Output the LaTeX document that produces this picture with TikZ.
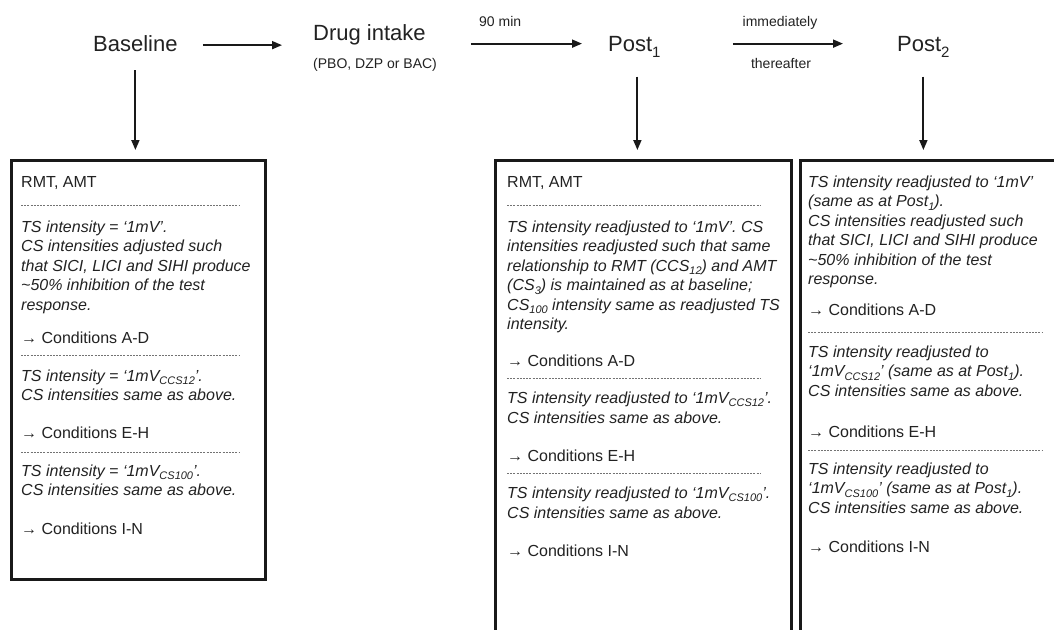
\documentclass[tikz,border=0pt]{standalone}
\usepackage{fontspec}
\setmainfont{Liberation Sans}
\usetikzlibrary{arrows.meta}
\definecolor{ink}{HTML}{222222}
\newcommand{\hsub}[1]{\raisebox{-0.55ex}{\fontsize{15}{15}\selectfont #1}}
\newcommand{\bsub}[1]{\raisebox{-0.45ex}{\fontsize{11}{11}\selectfont #1}}
\tikzset{
  hdr/.style={inner sep=0, anchor=base west, text=ink, font=\fontsize{22}{26}\selectfont},
  small/.style={inner sep=0, anchor=base west, text=ink, font=\fontsize{14}{17}\selectfont},
  ln/.style={inner sep=0, anchor=base west, text=ink, font=\fontsize{16}{19.5}\selectfont},
  itl/.style={inner sep=0, anchor=base west, text=ink, font=\fontsize{16}{19.5}\selectfont\itshape},
  sepline/.style={draw=black!55, dash pattern=on 2pt off 1.2pt, line width=0.9pt},
  frame/.style={draw=black!90, line width=2.6pt, anchor=north west, inner sep=0},
  arr/.style={-{Triangle[length=10pt,width=8pt]}, line width=1.8pt, draw=black!90},
}
\begin{document}
\begin{tikzpicture}[x=1pt,y=-1pt]
\useasboundingbox (0,0) rectangle (1054,629);
\fill[white] (0,0) rectangle (1054,629);
\clip (0,0) rectangle (1054,629);

% headers
\node[hdr] (base) at (93,51) {Baseline};
\node[hdr] (drug) at (313,40) {Drug intake};
\node[small] (drugsub) at (313,68) {(PBO, DZP or BAC)};
\node[hdr] (post1) at (608,51) {Post\hsub{1}};
\node[hdr] (post2) at (897,51) {Post\hsub{2}};
\node[small] (ninety) at (479,26) {90 min};
\node[small, anchor=base] (immed) at (780,26) {immediately};
\node[small, anchor=base] (there) at (781,68) {thereafter};

% boxes
\node[frame, minimum width=254pt, minimum height=419pt] (box1) at (10,159) {};
\node[frame, minimum width=296pt, minimum height=520pt] (box2) at (494,159) {};
\node[frame, minimum width=300pt, minimum height=520pt] (box3) at (799,159) {};

% arrows
\draw[arr] ([xshift=25pt,yshift=-2pt]base.east) -- ([xshift=-31pt,yshift=-2pt]base.east -| drug.west);
\draw[arr] ([xshift=45pt,yshift=3pt]drug.east |- post1.west) -- ([xshift=-26pt,yshift=3pt]post1.west);
\draw[arr] ([xshift=72pt,yshift=3pt]post1.east) -- ([xshift=-54pt,yshift=3pt]post1.east -| post2.west);
\draw[arr] ([yshift=-19pt]base.south) -- ([yshift=9pt]box1.north -| base.south);
\draw[arr] ([yshift=-19pt,xshift=3pt]post1.south) -- ([yshift=9pt,xshift=3pt]box2.north -| post1.south);
\draw[arr] ([yshift=-19pt]post2.south) -- ([yshift=9pt]box3.north -| post2.south);

% box 1
\node[ln]  (a1)  at (21,187) {RMT, AMT};
\draw[sepline] (21,205) -- (240,205);
\node[itl] (a2)  at (21,232) {TS intensity = ‘1mV’.};
\node[itl] (a3)  at (21,251.5) {CS intensities adjusted such};
\node[itl] (a4)  at (21,271) {that SICI, LICI and SIHI produce};
\node[itl] (a5)  at (21,290.5) {\textasciitilde50\% inhibition of the test};
\node[itl] (a6)  at (21,310) {response.};
\node[ln]  (a7)  at (21,343) {→ Conditions A-D};
\draw[sepline] (21,355) -- (240,355);
\node[itl] (a8)  at (21,381) {TS intensity = ‘1mV\bsub{CCS12}’.};
\node[itl] (a9)  at (21,400) {CS intensities same as above.};
\node[ln]  (a10) at (21,438) {→ Conditions E-H};
\draw[sepline] (21,452) -- (240,452);
\node[itl] (a11) at (21,476) {TS intensity = ‘1mV\bsub{CS100}’.};
\node[itl] (a12) at (21,495) {CS intensities same as above.};
\node[ln]  (a13) at (21,534) {→ Conditions I-N};

% box 2
\node[ln]  (b1)  at (507,187) {RMT, AMT};
\draw[sepline] (507,205) -- (760,205);
\node[itl] (b2)  at (507,232) {TS intensity readjusted to ‘1mV’. CS};
\node[itl] (b3)  at (507,251.5) {intensities readjusted such that same};
\node[itl] (b4)  at (507,271) {relationship to RMT (CCS\bsub{12}) and AMT};
\node[itl] (b5)  at (507,290.5) {(CS\bsub{3}) is maintained as at baseline;};
\node[itl] (b6)  at (507,310) {CS\bsub{100} intensity same as readjusted TS};
\node[itl] (b7)  at (507,329.5) {intensity.};
\node[ln]  (b8)  at (507,366) {→ Conditions A-D};
\draw[sepline] (507,378) -- (760,378);
\node[itl] (b9)  at (507,403) {TS intensity readjusted to ‘1mV\bsub{CCS12}’.};
\node[itl] (b10) at (507,423) {CS intensities same as above.};
\node[ln]  (b11) at (507,461) {→ Conditions E-H};
\draw[sepline] (507,473) -- (760,473);
\node[itl] (b12) at (507,498) {TS intensity readjusted to ‘1mV\bsub{CS100}’.};
\node[itl] (b13) at (507,518) {CS intensities same as above.};
\node[ln]  (b14) at (507,556) {→ Conditions I-N};

% box 3
\node[itl] (c1)  at (808,187) {TS intensity readjusted to ‘1mV’};
\node[itl] (c2)  at (808,206.5) {(same as at Post\bsub{1}).};
\node[itl] (c3)  at (808,226) {CS intensities readjusted such};
\node[itl] (c4)  at (808,245.5) {that SICI, LICI and SIHI produce};
\node[itl] (c5)  at (808,265) {\textasciitilde50\% inhibition of the test};
\node[itl] (c6)  at (808,284.5) {response.};
\node[ln]  (c7)  at (808,315) {→ Conditions A-D};
\draw[sepline] (808,332) -- (1042,332);
\node[itl] (c8)  at (808,357) {TS intensity readjusted to};
\node[itl] (c9)  at (808,376.5) {‘1mV\bsub{CCS12}’ (same as at Post\bsub{1}).};
\node[itl] (c10) at (808,396) {CS intensities same as above.};
\node[ln]  (c11) at (808,437) {→ Conditions E-H};
\draw[sepline] (808,450) -- (1042,450);
\node[itl] (c12) at (808,474) {TS intensity readjusted to};
\node[itl] (c13) at (808,493.5) {‘1mV\bsub{CS100}’ (same as at Post\bsub{1}).};
\node[itl] (c14) at (808,513) {CS intensities same as above.};
\node[ln]  (c15) at (808,552) {→ Conditions I-N};
\end{tikzpicture}
\end{document}
